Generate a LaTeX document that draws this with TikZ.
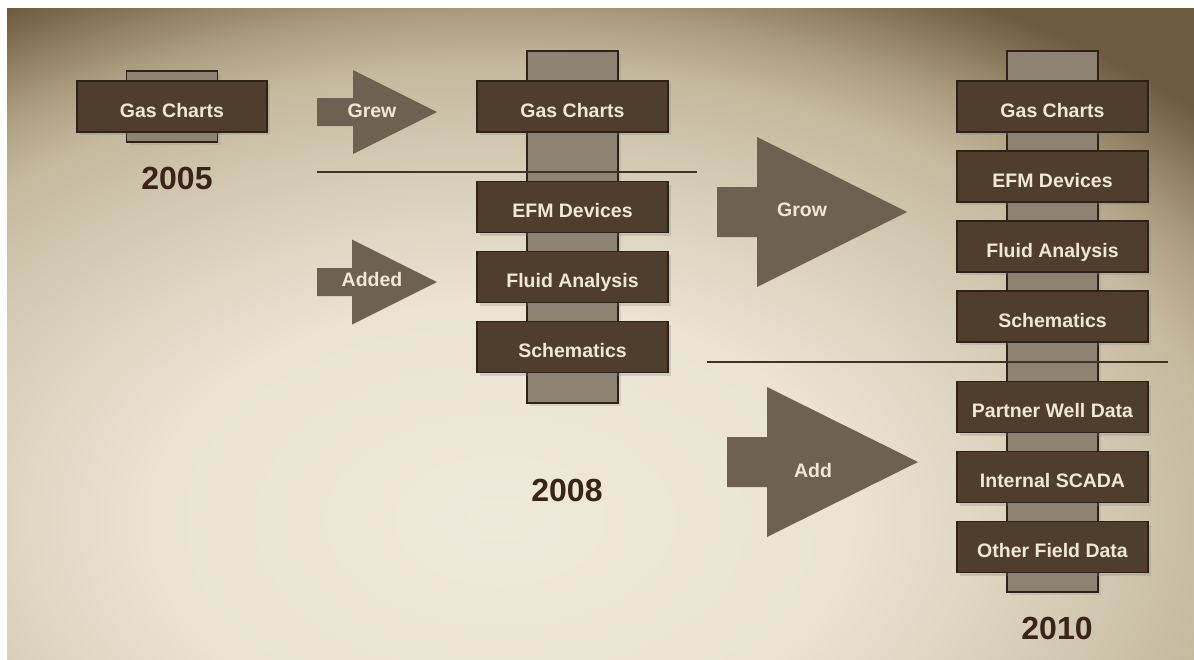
\documentclass[tikz,border=0pt]{standalone}
\usepackage{fontspec}
\setmainfont{Liberation Sans}
\usetikzlibrary{positioning, shadows}

\definecolor{boxfill}{HTML}{4F3E2E}
\definecolor{boxline}{HTML}{2E2218}
\definecolor{spinefill}{HTML}{8E8373}
\definecolor{arrowfill}{HTML}{6F6151}
\definecolor{labeltext}{HTML}{F0E8D4}
\definecolor{yeartext}{HTML}{3A2418}
\definecolor{rulecolor}{HTML}{3F3226}
\definecolor{bgmid}{HTML}{EFE9DB}
\definecolor{bglight}{HTML}{EBE4D3}
\definecolor{bgwarm}{HTML}{D8CFBA}
\definecolor{bgsand}{HTML}{C5B99E}
\definecolor{bgtan}{HTML}{AB9C7E}
\definecolor{bgdark}{HTML}{6E5A3E}

\pgfdeclareradialshading{vignette}{\pgfpoint{0bp}{0bp}}{color(0bp)=(bgmid); color(8.75bp)=(bglight); color(13.75bp)=(bgwarm); color(18.25bp)=(bgsand); color(20.5bp)=(bgtan); color(24bp)=(bgdark); color(50bp)=(bgdark)}

\begin{document}
\begin{tikzpicture}[
        x=1pt, y=-1pt,
        databox/.style={
            rectangle,
            draw=boxline,
            line width=1.5pt,
            fill=boxfill,
            minimum width=191pt,
            minimum height=51pt,
            inner sep=0pt,
            text height=21pt,
            text depth=0pt,
            text=labeltext,
            font=\fontsize{19.5}{20}\selectfont\bfseries,
            drop shadow={shadow xshift=3pt, shadow yshift=-3pt, opacity=0.25}
        },
        spine/.style={
            rectangle,
            draw=boxline,
            line width=1.5pt,
            fill=spinefill,
            minimum width=91pt,
            inner sep=0pt,
            drop shadow={shadow xshift=3pt, shadow yshift=-3pt, opacity=0.2}
        },
        blockarrow/.style={fill=arrowfill},
        arrowlabel/.style={text=labeltext, font=\fontsize{19.5}{20}\selectfont\bfseries},
        year/.style={text=yeartext, font=\fontsize{32}{34}\selectfont\bfseries},
        divider/.style={draw=rulecolor, line width=2pt}
        ]

        \useasboundingbox (0,0) rectangle (1194,659);

        % Background
        \begin{scope}
            \clip (7,8) rectangle (1194,659);
            \shade[shading=vignette] (-500,-100) rectangle (1500,1140);
        \end{scope}

        % 2005
        \node[spine, minimum height=71pt] (spine05) at (172,106.5) {};
        \node[databox, minimum width=190pt] (gas05) at (172,106.5) {Gas Charts};
        \node[year] (year05) at (177,178) {2005};

        % 2008
        \node[spine, minimum height=352pt] (spine08) at (572.5,227) {};
        \node[databox] (gas08) at (572.5,106.5) {Gas Charts};
        \node[databox] (efm08) at (572.5,207) {EFM Devices};
        \node[databox, below=17.5pt of efm08] (fluid08) {Fluid Analysis};
        \node[databox, below=17.5pt of fluid08] (schem08) {Schematics};
        \node[year] (year08) at (567,490) {2008};

        % 2010
        \node[spine, minimum height=541pt] (spine10) at (1052.5,321.5) {};
        \node[databox] (gas10) at (1052.5,106.5) {Gas Charts};
        \node[databox, below=17.5pt of gas10] (efm10) {EFM Devices};
        \node[databox, below=17.5pt of efm10] (fluid10) {Fluid Analysis};
        \node[databox, below=17.5pt of fluid10] (schem10) {Schematics};
        \node[databox, below=38pt of schem10] (partner10) {Partner Well Data};
        \node[databox, below=17.5pt of partner10] (scada10) {Internal SCADA};
        \node[databox, below=17.5pt of scada10] (other10) {Other Field Data};
        \node[year] (year10) at (1057,628) {2010};

        % Dividers
        \coordinate (div1w) at (317,172);
        \coordinate (div1e) at (697,172);
        \coordinate (div2w) at (707,362);
        \coordinate (div2e) at (1168,362);
        \draw[divider] (div1w) -- (div1e);
        \draw[divider] (div2w) -- (div2e);

        % Block arrows
        \coordinate (grew) at (317,112);
        \fill[blockarrow] (grew) ++(0,-14) -- ++(36,0) -- ++(0,-28) -- ++(84,42)
            -- ++(-84,42) -- ++(0,-28) -- ++(-36,0) -- cycle;
        \node[arrowlabel] (grewlabel) at (372,111) {Grew};

        \coordinate (added) at (317,282);
        \fill[blockarrow] (added) ++(0,-14) -- ++(35,0) -- ++(0,-28.5) -- ++(85,42.5)
            -- ++(-85,42.5) -- ++(0,-28.5) -- ++(-35,0) -- cycle;
        \node[arrowlabel] (addedlabel) at (372,280) {Added};

        \coordinate (grow) at (717,212);
        \fill[blockarrow] (grow) ++(0,-25) -- ++(40,0) -- ++(0,-50) -- ++(150,75)
            -- ++(-150,75) -- ++(0,-50) -- ++(-40,0) -- cycle;
        \node[arrowlabel] (growlabel) at (802,210) {Grow};

        \coordinate (add) at (727,462);
        \fill[blockarrow] (add) ++(0,-25) -- ++(40,0) -- ++(0,-50) -- ++(151,75)
            -- ++(-151,75) -- ++(0,-50) -- ++(-40,0) -- cycle;
        \node[arrowlabel] (addlabel) at (813,471) {Add};

    \end{tikzpicture}
\end{document}
